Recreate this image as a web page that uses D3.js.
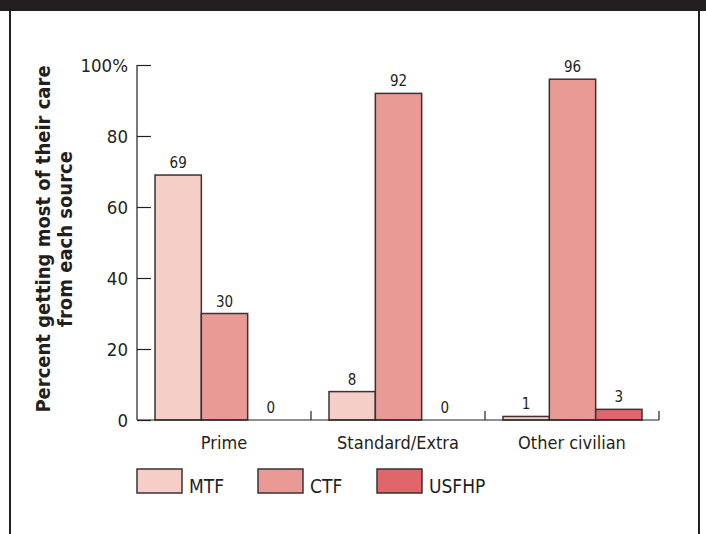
<!DOCTYPE html>
<html><head><meta charset="utf-8">
<script src="https://cdn.jsdelivr.net/npm/d3@7"></script>
<style>body{margin:0;background:#fff}svg{display:block}text{font-family:"DejaVu Sans Condensed","Open Sans",sans-serif;fill:#231f20}</style>
</head><body><svg id="c" width="706" height="534"></svg>
<script>
const categories = ["Prime", "Standard/Extra", "Other civilian"];
const seriesNames = ["MTF", "CTF", "USFHP"];
const MTF = [69, 8, 1];
const CTF = [30, 92, 96];
const USFHP = [0, 0, 3];
const yTicks = [0, 20, 40, 60, 80, 100];
const colors = ["#f6cec8", "#e99a95", "#e0666c"];
const values = [MTF, CTF, USFHP];

const svg = d3.select("#c");
// frame
svg.append("rect").attr("x",0).attr("y",0).attr("width",706).attr("height",11).attr("fill","#231f20");
svg.append("line").attr("x1",10).attr("x2",10).attr("y1",0).attr("y2",534).attr("stroke","#231f20").attr("stroke-width",2);
svg.append("line").attr("x1",699).attr("x2",699).attr("y1",0).attr("y2",534).attr("stroke","#231f20").attr("stroke-width",2);

const x0 = d3.scaleBand().domain(categories).range([137, 659]).padding(0);
const x1 = d3.scaleBand().domain(seriesNames).range([18, x0.bandwidth()-17]).padding(0);
const y = d3.scaleLinear().domain([0,100]).range([420, 65]);

// y axis
const ya = svg.append("g").attr("transform","translate(137,0)")
  .call(d3.axisRight(y).tickValues(yTicks).tickSize(14).tickFormat(d=> d===100? "100%": d));
ya.attr("font-family",null);
ya.select(".domain").attr("stroke","#231f20").attr("stroke-width",1.2).attr("d","M0,65V420");
ya.selectAll(".tick line").attr("stroke","#231f20").attr("stroke-width",1.2);
ya.selectAll(".tick text").attr("x",-9).attr("dy","0.36em").attr("text-anchor","end").attr("font-size",18.5)
  .attr("fill","#231f20");

// bars
const g = svg.append("g");
categories.forEach((c,i)=>{
  seriesNames.forEach((s,j)=>{
    const v = values[j][i];
    const bx = x0(c)+x1(s);
    g.append("rect").attr("x",bx).attr("y",y(v)).attr("width",x1.bandwidth()).attr("height",y(0)-y(v))
      .attr("fill",colors[j]).attr("stroke","#3a3233").attr("stroke-width",1.5);
    g.append("text").attr("x",bx+x1.bandwidth()/2).attr("y",y(v)-7).attr("text-anchor","middle")
      .attr("font-size",15).text(v);
  });
});

// x axis
const xa = svg.append("g").attr("transform","translate(0,420)");
xa.append("line").attr("x1",137).attr("x2",659).attr("stroke","#231f20").attr("stroke-width",1.2);
categories.forEach(c=>{
  const xe = x0(c)+x0.bandwidth();
  xa.append("line").attr("x1",xe).attr("x2",xe).attr("y1",0).attr("y2",-9).attr("stroke","#231f20").attr("stroke-width",1.2);
  xa.append("text").attr("x",x0(c)+x0.bandwidth()/2).attr("y",29).attr("text-anchor","middle").attr("font-size",18).text(c);
});

// y label
const yl = svg.append("text").attr("transform","translate(0,239) rotate(-90)").attr("text-anchor","middle")
  .attr("font-size",20).attr("font-weight","bold");
yl.append("tspan").attr("x",0).attr("y",50).text("Percent getting most of their care");
yl.append("tspan").attr("x",0).attr("y",72).text("from each source");

// legend
const lx = [137, 258, 377];
seriesNames.forEach((s,j)=>{
  svg.append("rect").attr("x",lx[j]).attr("y",469).attr("width",45).attr("height",24)
    .attr("fill",colors[j]).attr("stroke","#3a3233").attr("stroke-width",1.5);
  svg.append("text").attr("x",lx[j]+52).attr("y",493).attr("font-size",19).text(s);
});
</script></body></html>
